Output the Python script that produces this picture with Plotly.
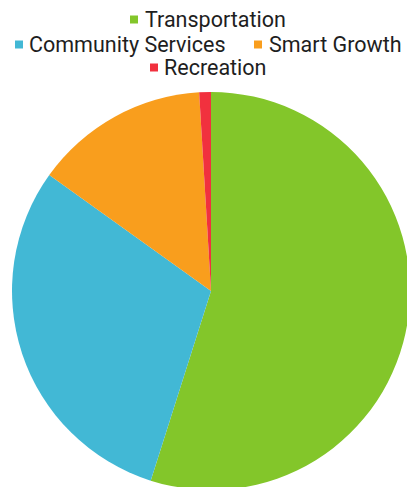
import plotly.graph_objects as go

categories = ["Transportation", "Community Services", "Smart Growth", "Recreation"]
values = [54.9, 30.0, 14.15, 0.95]
colors = ["#83c62a", "#42b8d5", "#f99e1d", "#f1313e"]

# Figure geometry (figure slightly larger than window so the pie overflows like the reference)
W, H = 422, 500
ML, MR, MT, MB = 12, 12, 92, 10
PW, PH = W - ML - MR, H - MT - MB


def px_x(px):
    return (px - ML) / PW


def px_y(py):
    return (H - MB - py) / PH


fig = go.Figure(
    go.Pie(
        labels=categories,
        values=values,
        marker=dict(colors=colors, line=dict(width=0)),
        sort=False,
        direction="clockwise",
        rotation=0,
        textinfo="none",
        showlegend=False,
    )
)

# Legend rows drawn as text + small squares (layout of the reference legend)
legend_rows = [
    [(0, 130, 143, 19.5)],
    [(1, 15, 27, 44.5), (2, 254, 267, 44.5)],
    [(3, 150, 162, 67.5)],
]
font_family = "Roboto, sans-serif"
annotations = []
shapes = []
for row in legend_rows:
    for idx, sq_x, tx_x, cy in row:
        shapes.append(dict(
            type="rect", xref="paper", yref="paper",
            x0=px_x(sq_x), x1=px_x(sq_x + 8),
            y0=px_y(cy + 4), y1=px_y(cy - 4),
            fillcolor=colors[idx], line=dict(width=0),
        ))
        annotations.append(dict(
            text=categories[idx], xref="paper", yref="paper",
            x=px_x(tx_x), y=px_y(cy), xanchor="left", yanchor="middle",
            showarrow=False, font=dict(family=font_family, size=21.5, color="#1e1e1e"),
        ))

fig.update_layout(
    width=W, height=H,
    margin=dict(l=ML, r=MR, t=MT, b=MB),
    paper_bgcolor="white",
    plot_bgcolor="white",
    annotations=annotations,
    shapes=shapes,
)

fig.write_html(
    "out.html",
    post_script="document.body.style.margin='0';document.body.style.overflow='hidden';document.documentElement.style.overflow='hidden';",
)
